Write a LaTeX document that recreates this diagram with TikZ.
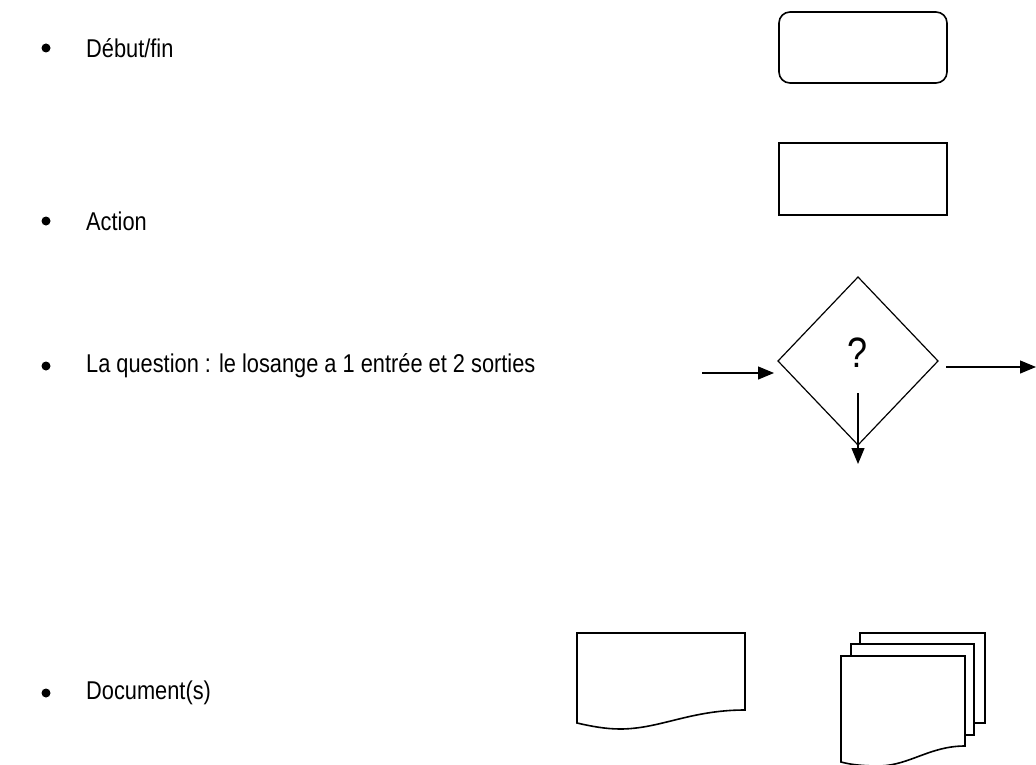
\documentclass[tikz,border=0pt]{standalone}
\usepackage{fontspec}
\setmainfont{Liberation Sans}
\usetikzlibrary{arrows.meta}
\newcommand{\tallbox}[1]{\scalebox{1}[1.18]{#1}}
\begin{document}
\begin{tikzpicture}[x=1pt,y=-1pt,
  shape line/.style={draw=black,line width=1.6pt,fill=white},
  thin line/.style={draw=black,line width=1.2pt},
  arr/.style={thin line,-{Triangle[length=16pt,width=13pt]}},
  label text/.style={anchor=west,inner sep=0pt,font=\fontsize{21.8}{26}\selectfont},
  bulletdot/.style={circle,fill=black,inner sep=0pt,minimum size=9pt}]
\useasboundingbox (0,0) rectangle (1036,765);
% bullets and labels
\node[bulletdot] (b1) at (46,48) {};
\node[label text] (t1) at (86,48) {\tallbox{Début/fin}};
\node[bulletdot] (b2) at (46,221) {};
\node[label text] (t2) at (86,221) {\tallbox{Action}};
\node[bulletdot] (b3) at (46,366) {};
\node[label text] (t3) at (86,366) {\tallbox{La question : le losange a 1 entrée et 2 sorties}};
\node[bulletdot] (b4) at (46,693) {};
\node[label text] (t4) at (86,693) {\tallbox{Document(s)}};
% start/end
\draw[shape line,rounded corners=11pt] (779,12) rectangle (947,83);
% action
\draw[shape line] (779,143) rectangle (947,215);
% diamond
\coordinate (dl) at (778,361);
\coordinate (dt) at (858,277);
\coordinate (dr) at (938,361);
\coordinate (db) at (858,445);
\draw[thin line] (dl) -- (dt) -- (dr) -- (db) -- cycle;
\node[inner sep=0pt,font=\fontsize{36}{40}\selectfont] (q) at (858,353) {\tallbox{?}};
\coordinate (ina) at (702,373);
\coordinate (inb) at (774,373);
\draw[arr] (ina) -- (inb);
\coordinate (outa) at (946,367);
\coordinate (outb) at (1036,367);
\draw[arr] (outa) -- (outb);
\coordinate (dna) at (858,393);
\coordinate (dnb) at (858,464);
\draw[arr] (dna) -- (dnb);
% single document
\draw[shape line] (577,723) -- (577,633) -- (745,633) -- (745,710)
  .. controls (690,710) and (660,729) .. (620,729)
  .. controls (605,729) and (590,726) .. (577,723) -- cycle;
% multiple documents
\draw[shape line] (860,656) -- (860,633) -- (985,633) -- (985,723) -- (965,723);
\draw[shape line] (851,656) -- (851,644) -- (974,644) -- (974,735) -- (965,735);
\draw[shape line] (841,762) -- (841,656) -- (965,656) -- (965,746)
  .. controls (930,746) and (910,765) .. (880,766)
  .. controls (865,766) and (852,765) .. (841,762) -- cycle;
\end{tikzpicture}
\end{document}
